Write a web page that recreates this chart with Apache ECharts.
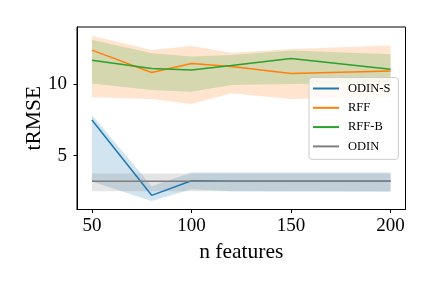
<!DOCTYPE html>
<html><head><meta charset="utf-8">
<script src="https://cdn.jsdelivr.net/npm/echarts@6/dist/echarts.min.js"></script>
<style>html,body{margin:0;padding:0;background:#fff}#c{width:432px;height:288px}</style>
</head><body><div id="c"></div>
<script>
var nFeatures = [50, 80, 100, 120, 150, 200];
var odinS   = [7.50, 2.23, 3.25, 3.22, 3.22, 3.22];
var odinSLo = [3.20, 1.84, 2.66, 2.52, 2.50, 2.48];
var odinSHi = [7.85, 2.87, 3.83, 3.83, 3.83, 3.83];
var rff   = [12.38, 10.82, 11.45, 11.23, 10.75, 10.92];
var rffLo = [9.09, 8.97, 8.62, 9.37, 8.97, 9.09];
var rffHi = [13.38, 12.40, 12.68, 12.20, 12.47, 12.70];
var rffB   = [11.68, 11.10, 11.00, 11.30, 11.80, 11.05];
var rffBLo = [10.05, 9.60, 9.48, 9.95, 10.02, 10.08];
var rffBHi = [13.10, 12.17, 11.93, 12.05, 12.36, 12.10];
var odin   = [3.22, 3.22, 3.22, 3.22, 3.22, 3.22];
var odinLo = [2.52, 2.52, 2.52, 2.52, 2.52, 2.52];
var odinHi = [3.76, 3.76, 3.76, 3.76, 3.76, 3.76];
var xTicks = [50, 100, 150, 200];
var yTicks = [5, 10];
var names = ['ODIN-S', 'RFF', 'RFF-B', 'ODIN'];
var colors = ['#1f77b4', '#ff7f0e', '#2ca02c', '#7f7f7f'];

var means = [odinS, rff, rffB, odin];
var los = [odinSLo, rffLo, rffBLo, odinLo];
var his = [odinSHi, rffHi, rffBHi, odinHi];

var font = 'Liberation Serif';
var series = [];
for (var k = 0; k < 4; k++) {
  (function (k) {
    series.push({
      type: 'custom',
      name: names[k] + '-band',
      silent: true,
      z: 1,
      data: nFeatures.map(function (x, i) { return [x, los[k][i], his[k][i]]; }),
      encode: { x: 0, y: [1, 2] },
      renderItem: function (params, api) {
        if (params.dataIndex !== 0) return;
        var pts = [];
        for (var i = 0; i < nFeatures.length; i++) pts.push(api.coord([nFeatures[i], his[k][i]]));
        for (var j = nFeatures.length - 1; j >= 0; j--) pts.push(api.coord([nFeatures[j], los[k][j]]));
        return { type: 'polygon', shape: { points: pts }, style: { fill: colors[k], opacity: 0.2 } };
      }
    });
  })(k);
}
for (var k2 = 0; k2 < 4; k2++) {
  series.push({
    type: 'line',
    name: names[k2],
    z: 3,
    symbol: 'none',
    color: colors[k2],
    lineStyle: { width: 1.5, color: colors[k2] },
    data: nFeatures.map(function (x, i) { return [x, means[k2][i]]; })
  });
}

var chart = echarts.init(document.getElementById('c'), null, { renderer: 'canvas' });
chart.setOption({
  animation: false,
  backgroundColor: '#ffffff',
  grid: { left: 77, top: 27, right: 26.5, bottom: 78.5, show: true, borderColor: '#000', borderWidth: 1, backgroundColor: 'transparent', containLabel: false, outerBoundsMode: 'none' },
  legend: {
    data: names.map(function (n, i) { return { name: n, icon: 'rect', itemStyle: { color: colors[i] } }; }),
    orient: 'vertical',
    left: 309, top: 77.5,
    itemWidth: 26, itemHeight: 2, itemGap: 5.3,
    padding: [4, 8, 6, 4],
    backgroundColor: 'rgba(255,255,255,0.8)',
    borderColor: '#cccccc', borderWidth: 1, borderRadius: 3,
    textStyle: { fontFamily: font, fontSize: 12.5, color: '#000', lineHeight: 14, padding: [0, 0, 0, 4] }
  },
  xAxis: {
    type: 'value', min: 42.5, max: 207.5,
    name: 'n features', nameLocation: 'middle', nameGap: 32, nameMoveOverlap: false,
    nameTextStyle: { fontFamily: font, fontSize: 21.5, color: '#000' },
    splitLine: { show: false },
    axisLine: { show: true, lineStyle: { color: '#000', width: 1 } },
    axisTick: { show: true, length: 3.5, inside: false, lineStyle: { color: '#000', width: 1 }, customValues: xTicks },
    axisLabel: { fontFamily: font, fontSize: 19, color: '#000', margin: 7, customValues: xTicks }
  },
  yAxis: {
    type: 'value', min: 1.24, max: 14.0,
    name: 'tRMSE', nameLocation: 'middle', nameGap: 32, nameMoveOverlap: false,
    nameTextStyle: { fontFamily: font, fontSize: 21.5, color: '#000' },
    splitLine: { show: false },
    axisLine: { show: true, lineStyle: { color: '#000', width: 1 } },
    axisTick: { show: true, length: 3.5, inside: false, lineStyle: { color: '#000', width: 1 }, customValues: yTicks },
    axisLabel: { fontFamily: font, fontSize: 19, color: '#000', margin: 10, customValues: yTicks }
  },
  series: series
});
</script></body></html>
